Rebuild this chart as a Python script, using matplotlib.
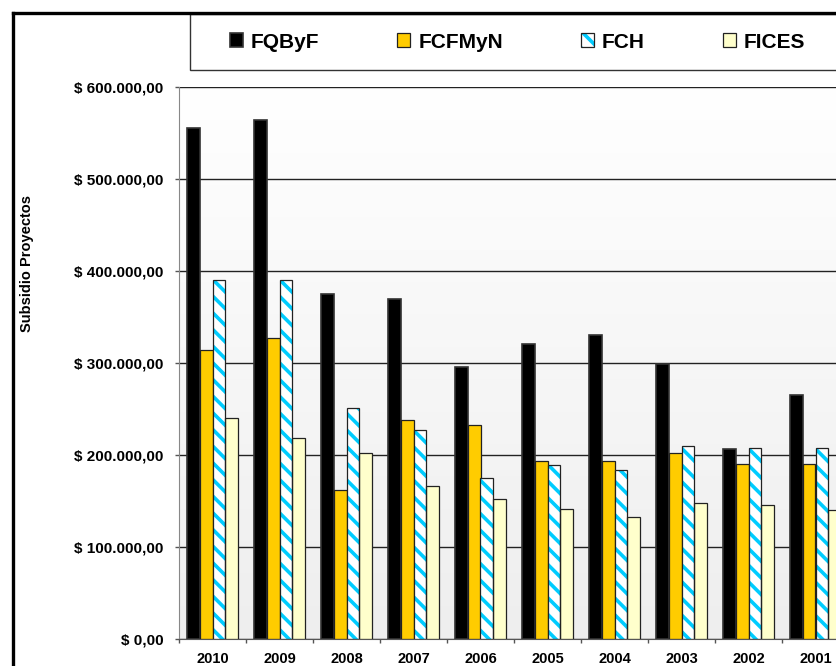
import matplotlib.pyplot as plt
import numpy as np
from matplotlib.colors import LinearSegmentedColormap
from matplotlib.legend_handler import HandlerTuple
from matplotlib.lines import Line2D
from matplotlib.patches import Rectangle
from matplotlib.ticker import FuncFormatter, MultipleLocator

# subsidio por facultad y año
years = ['2010', '2009', '2008', '2007', '2006', '2005', '2004', '2003', '2002', '2001']
fqbyf = [556000, 564000, 375000, 370000, 296000, 321000, 331000, 299000, 207000, 266000]
fcfmyn = [314000, 327000, 162000, 238000, 233000, 194000, 194000, 202000, 190000, 190000]
fch = [390000, 390000, 251000, 228000, 175000, 189000, 184000, 210000, 208000, 208000]
fices = [240000, 219000, 202000, 167000, 152000, 142000, 133000, 148000, 146000, 141000]

plt.rcParams['font.family'] = ['Liberation Sans', 'DejaVu Sans']
plt.rcParams['font.weight'] = 'bold'
plt.rcParams['hatch.linewidth'] = 2.6

W, H = 836, 666
fig = plt.figure(figsize=(W / 100, H / 100), dpi=100)
fig.patch.set_facecolor('white')

# plot area runs past the right edge of the picture (cropped chart)
ax = fig.add_axes([179 / W, (H - 639.3) / H, 670 / W, 552 / H])

x = np.arange(len(years))
bw = 0.19

# background gradient
grad = LinearSegmentedColormap.from_list('bg', ['#eeeeee', '#ffffff'])
ax.imshow(np.linspace(0, 1, 256).reshape(-1, 1), extent=[-0.5, 9.5, 0, 600000],
          aspect='auto', cmap=grad, origin='lower', zorder=0)

b1 = ax.bar(x - 1.5 * bw, fqbyf, bw, color='black', edgecolor='#333333', lw=1.2, zorder=2)
b2 = ax.bar(x - 0.5 * bw, fcfmyn, bw, color='#FFCC00', edgecolor='#222222', lw=0.9, zorder=2)
b3h = ax.bar(x + 0.5 * bw, fch, bw, color='white', edgecolor='#00CCFF', hatch='\\\\', lw=0, zorder=2)
b3e = ax.bar(x + 0.5 * bw, fch, bw, fill=False, edgecolor='#222222', lw=0.9, zorder=3)
b4 = ax.bar(x + 1.5 * bw, fices, bw, color='#FFFFCC', edgecolor='#222222', lw=0.9, zorder=2)

ax.set_xlim(-0.5, 9.5)
ax.set_ylim(0, 600000)

ax.yaxis.set_major_locator(MultipleLocator(100000))
ax.yaxis.set_major_formatter(FuncFormatter(
    lambda v, p: '$ ' + f'{v:,.2f}'.replace(',', 'X').replace('.', ',').replace('X', '.')))
ax.grid(axis='y', color='#222222', lw=1.0, zorder=1)
ax.set_axisbelow(True)

ax.set_xticks(x)
ax.set_xticklabels(years)
ax.set_xticks(np.arange(-0.5, 10, 1), minor=True)
ax.tick_params(axis='x', which='major', length=0, pad=9, labelsize=10.5)
ax.tick_params(axis='x', which='minor', length=3, width=1, color='#555555', direction='out')
ax.tick_params(axis='y', length=3, width=1, color='#555555', pad=8, labelsize=11)

for s in ['top', 'right']:
    ax.spines[s].set_visible(False)
ax.spines['left'].set_color('#888888')
ax.spines['bottom'].set_color('#555555')

fig.text(27.5 / W, 1 - 263 / H, 'Subsidio Proyectos', rotation=90, ha='center', va='center',
         fontsize=10.5, fontweight='bold')

# outer chart border (cropped at right and bottom)
fig.add_artist(Line2D([12.5 / W, 12.5 / W], [0, 1 - 12.5 / H], transform=fig.transFigure,
                      color='black', lw=2.4))
fig.add_artist(Line2D([12.5 / W, 1], [1 - 12.5 / H, 1 - 12.5 / H], transform=fig.transFigure,
                      color='black', lw=2.4))

# legend box
fig.add_artist(Rectangle((189.5 / W, (H - 70) / H), 1, (70 - 14) / H, transform=fig.transFigure,
                         facecolor='white', edgecolor='#333333', lw=1))

fig.legend([b1, b2, (b3h, b3e), b4], ['FQByF', 'FCFMyN', 'FCH', 'FICES'],
           handler_map={tuple: HandlerTuple(ndivide=1)},
           loc='center left', bbox_to_anchor=(230 / W, 1 - 42 / H), ncol=4, frameon=False,
           prop={'weight': 'bold', 'size': 15},
           handlelength=0.62, handleheight=0.62, handletextpad=0.38, columnspacing=3.75,
           borderpad=0, borderaxespad=0)

fig.savefig('out.png', dpi=100)
